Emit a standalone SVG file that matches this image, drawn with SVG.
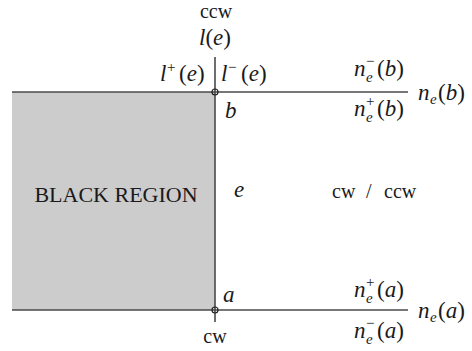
<svg xmlns="http://www.w3.org/2000/svg" width="472" height="351" viewBox="0 0 472 351">
<defs>
<style>
text{font-family:"Liberation Serif",serif;fill:#1a1a1a}
.m{font-size:23px}
.t{font-size:20px}
.s{font-size:15px}
.i{font-style:italic}
.ln{stroke:#4a4a4a;stroke-width:1.6;fill:none}
.pt{fill:none;stroke:#222;stroke-width:1.2}
</style>
</defs>
<g id="black-region">
<rect x="12" y="92" width="203" height="218" fill="#cccccc"/>
<text x="116" y="202" text-anchor="middle" font-size="22">BLACK REGION</text>
</g>
<g id="connectors">
<line class="ln" x1="215" y1="57" x2="215" y2="322"/>
<line class="ln" x1="12" y1="92" x2="408" y2="92"/>
<line class="ln" x1="12" y1="310" x2="408" y2="310"/>
</g>
<g id="node-b">
<circle class="pt" cx="215" cy="92" r="3"/>
<text class="m i" x="225" y="118">b</text>
</g>
<g id="node-a">
<circle class="pt" cx="215" cy="310" r="3"/>
<text class="m i" x="223" y="302">a</text>
</g>
<g id="labels-top">
<text class="t" x="216" y="18" text-anchor="middle">ccw</text>
<text class="m" x="215" y="45" text-anchor="middle"><tspan class="i">l</tspan>(<tspan class="i">e</tspan>)</text>
<text class="m i" x="160" y="81">l</text>
<text class="s" x="167" y="72">+</text>
<text class="m" x="179" y="81">(<tspan class="i">e</tspan>)</text>
<text class="m i" x="221" y="81">l</text>
<text class="s" x="228" y="72">−</text>
<text class="m" x="241" y="81">(<tspan class="i">e</tspan>)</text>
</g>
<g id="labels-edge">
<text class="m i" x="234" y="197">e</text>
<text class="t" x="332" y="198">cw</text>
<text class="t" x="366" y="198">/</text>
<text class="t" x="384" y="198">ccw</text>
</g>
<g id="labels-b">
<text class="m i" x="354" y="76">n</text>
<text class="s" x="366" y="66">−</text>
<text class="s i" x="366" y="82">e</text>
<text class="m" x="377" y="76">(<tspan class="i">b</tspan>)</text>
<text class="m i" x="354" y="116">n</text>
<text class="s" x="366" y="106">+</text>
<text class="s i" x="366" y="122">e</text>
<text class="m" x="377" y="116">(<tspan class="i">b</tspan>)</text>
<text class="m i" x="418" y="100">n</text>
<text class="s i" x="430" y="104">e</text>
<text class="m" x="438" y="100">(<tspan class="i">b</tspan>)</text>
</g>
<g id="labels-a">
<text class="m i" x="354" y="297">n</text>
<text class="s" x="366" y="287">+</text>
<text class="s i" x="366" y="303">e</text>
<text class="m" x="377" y="297">(<tspan class="i">a</tspan>)</text>
<text class="m i" x="354" y="338">n</text>
<text class="s" x="366" y="328">−</text>
<text class="s i" x="366" y="344">e</text>
<text class="m" x="377" y="338">(<tspan class="i">a</tspan>)</text>
<text class="m i" x="418" y="318">n</text>
<text class="s i" x="430" y="322">e</text>
<text class="m" x="438" y="318">(<tspan class="i">a</tspan>)</text>
<text class="t" x="215" y="343" text-anchor="middle">cw</text>
</g>
</svg>
